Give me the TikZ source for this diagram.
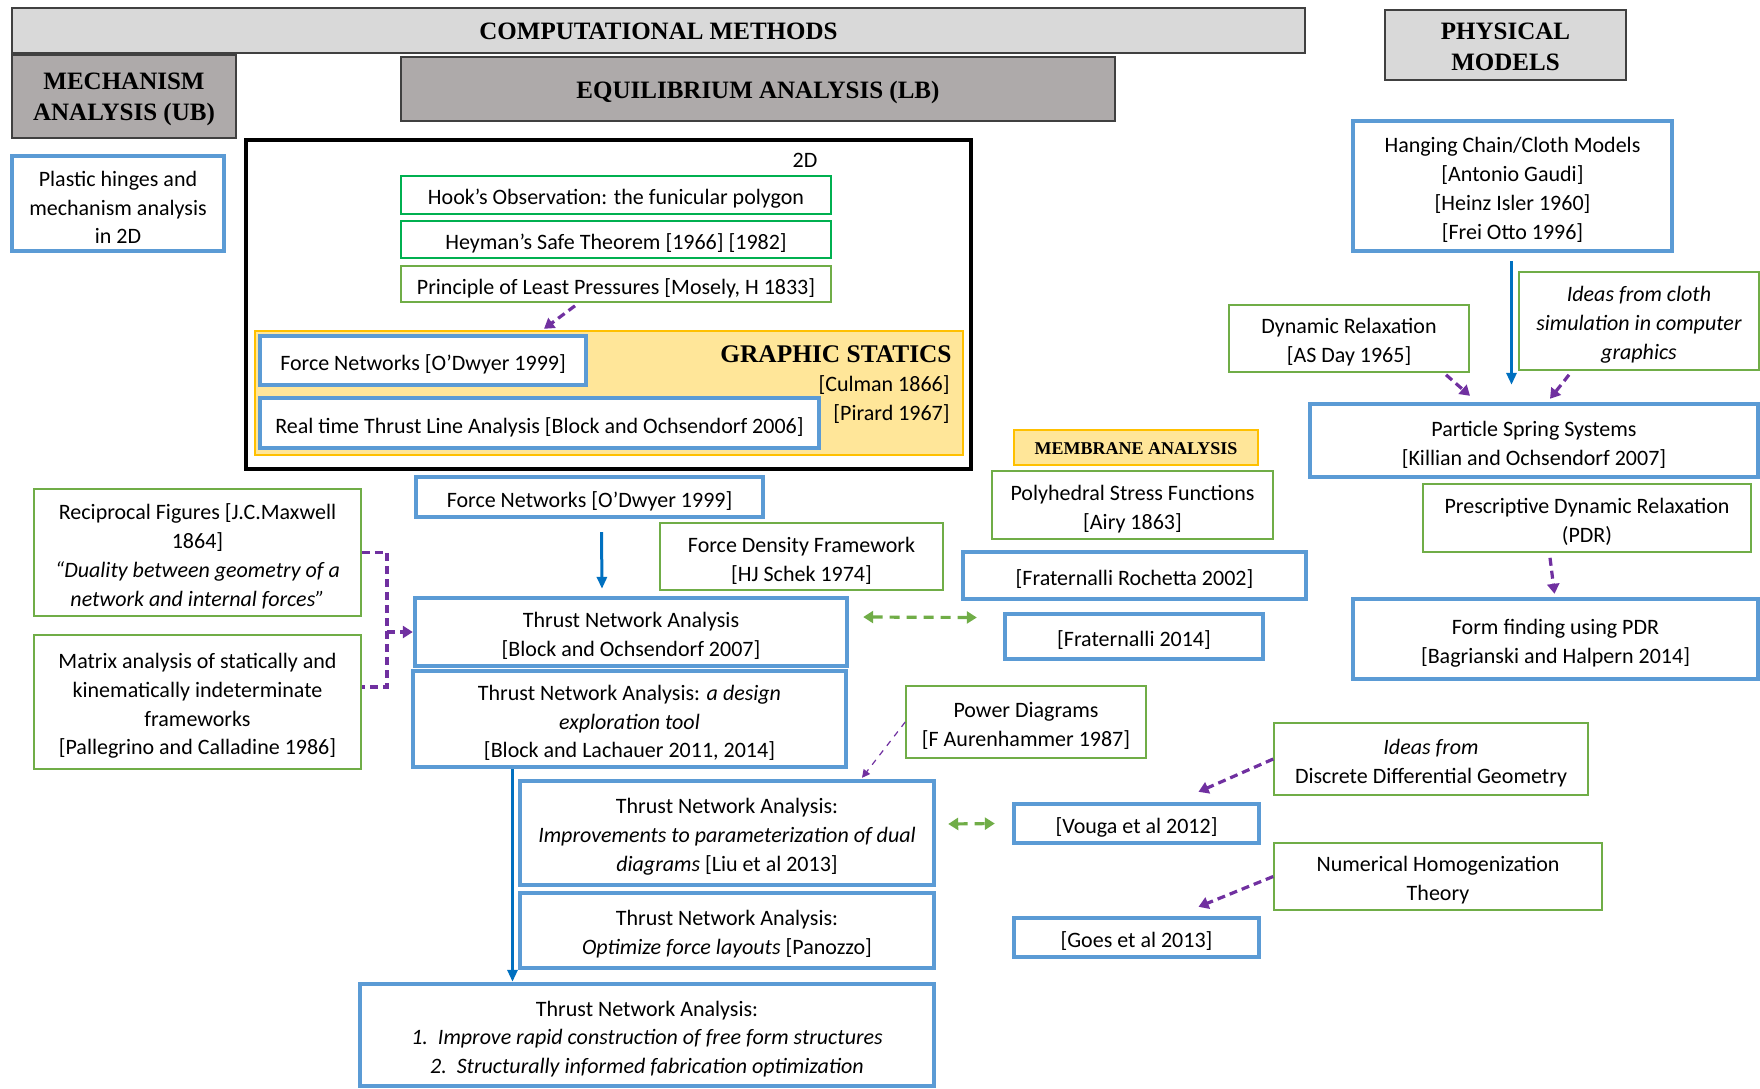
\documentclass[tikz,border=0pt]{standalone}
\usepackage{fontspec}
\setmainfont{Carlito}
\newfontfamily\hdrfont{Liberation Serif}
\usetikzlibrary{arrows.meta,calc}
\definecolor{bluec}{HTML}{5B9BD5}
\definecolor{greenc}{HTML}{70AD47}
\definecolor{greenb}{HTML}{00B050}
\definecolor{purp}{HTML}{7030A0}
\definecolor{arrblue}{HTML}{0070C0}
\definecolor{hdrlight}{HTML}{D9D9D9}
\definecolor{hdrdark}{HTML}{AEAAAA}
\definecolor{yelfill}{HTML}{FFE699}
\definecolor{yelline}{HTML}{FFC000}
\newcommand\mkbox[8][4]{%
  \pgfmathsetmacro\mbx{(#4+#6)/2}%
  \pgfmathsetmacro\mby{(#5+#7)/2}%
  \pgfmathsetmacro\mbty{(#5+#7)/2+#1}%
  \pgfmathsetmacro\mbw{(#6-#4)/2}%
  \pgfmathsetmacro\mbh{(#7-#5)/2}%
  \node[#2,minimum width=\mbw pt,minimum height=\mbh pt] (#3) at (\mbx,\mby) {};
  \node[#2,draw=none,fill=none] (#3t) at (\mbx,\mbty) {#8};}
\tikzset{
  base/.style={rectangle,inner sep=1pt,align=center,font=\fontsize{11}{14.4}\selectfont},
  bluebox/.style={base,draw=bluec,line width=2.2pt,fill=white},
  greenbox/.style={base,draw=greenc,line width=0.8pt,fill=white},
  greenboxb/.style={base,draw=greenb,line width=0.9pt,fill=white},
  hdrL/.style={base,draw=black!75,line width=1pt,fill=hdrlight,font=\hdrfont\bfseries\fontsize{12.5}{15.7}\selectfont},
  hdrD/.style={base,draw=black!75,line width=1pt,fill=hdrdark,font=\hdrfont\bfseries\fontsize{12.5}{15.7}\selectfont},
  memb/.style={base,draw=yelline,line width=0.8pt,fill=yelfill,font=\hdrfont\bfseries\fontsize{9}{11}\selectfont},
  framebox/.style={rectangle,draw=black,line width=2pt},
  yelbox/.style={rectangle,draw=yelline,line width=0.8pt,fill=yelfill},
  plain/.style={inner sep=0pt,font=\fontsize{11}{14.4}\selectfont},
  purpd/.style={draw=purp,line width=1.6pt,dash pattern=on 4pt off 2.5pt},
  purparr/.style={purpd,-{Triangle[length=5pt,width=6pt]}},
  purpthin/.style={draw=purp,line width=0.6pt,dashed,-{Triangle[length=4pt,width=4pt]}},
  bluearr/.style={draw=arrblue,line width=1.5pt,-{Triangle[length=6pt,width=5pt]}},
  greenarr/.style={draw=greenc,line width=1.6pt,dash pattern=on 5pt off 3.5pt,{Triangle[length=5pt,width=6pt]}-{Triangle[length=5pt,width=6pt]}}
}
\begin{document}
\begin{tikzpicture}[x=0.5pt,y=-0.5pt]
\useasboundingbox (0,0) rectangle (1760,1088);
% headers
\mkbox[1]{hdrL}{comp}{12}{8}{1305}{53}{COMPUTATIONAL METHODS}
\mkbox[3]{hdrD}{mech}{12}{55}{236}{138}{MECHANISM\\ANALYSIS (UB)}
\mkbox[3]{hdrD}{equi}{401}{57}{1115}{121}{EQUILIBRIUM ANALYSIS (LB)}
\mkbox[2]{hdrL}{phys}{1385}{10}{1626}{80}{PHYSICAL\\MODELS}
% 2D frame
\mkbox[0]{framebox}{frame}{246}{140}{971}{469}{}
\mkbox[0]{yelbox}{gs}{255}{331}{963}{455}{}
\node[plain,anchor=center] (twod) at (805,160) {2D};
\mkbox{greenboxb}{hook}{401}{176}{831}{214}{Hook’s Observation: the funicular polygon}
\mkbox{greenboxb}{heym}{401}{221}{831}{258}{Heyman’s Safe Theorem [1966] [1982]}
\mkbox{greenbox}{princ}{401}{266}{831}{302}{Principle of Least Pressures [Mosely, H 1833]}
\mkbox{bluebox}{fnA}{260}{336}{586}{385}{Force Networks [O’Dwyer 1999]}
\mkbox{bluebox}{rtt}{260}{398}{819}{448}{Real time Thrust Line Analysis [Block and Ochsendorf 2006]}
\node[inner sep=0pt,anchor=east,font=\hdrfont\bfseries\fontsize{12.7}{15}\selectfont] (gstitle) at (952,354) {GRAPHIC STATICS};
\node[plain,anchor=east] (culman) at (950,385) {[Culman 1866]};
\node[plain,anchor=east] (pirard) at (950,414) {[Pirard 1967]};
% left column
\mkbox{bluebox}{plastic}{12}{156}{224}{251}{Plastic hinges and\\mechanism analysis\\in 2D}
\mkbox{greenbox}{recip}{34}{489}{361}{616}{Reciprocal Figures [J.C.Maxwell\\1864]\\\textit{“Duality between geometry of a}\\\textit{network and internal forces”}}
\mkbox{greenbox}{matrix}{34}{635}{361}{769}{Matrix analysis of statically and\\kinematically indeterminate\\frameworks\\{[}Pallegrino and Calladine 1986]}
% centre column
\mkbox{bluebox}{fnB}{416}{477}{763}{517}{Force Networks [O’Dwyer 1999]}
\mkbox{greenbox}{fdf}{660}{523}{943}{590}{Force Density Framework\\{[}HJ Schek 1974]}
\mkbox{bluebox}{tna}{415}{598}{847}{666}{Thrust Network Analysis\\{[}Block and Ochsendorf 2007]}
\mkbox{bluebox}{design}{413}{671}{846}{767}{Thrust Network Analysis: \textit{a design}\\\textit{exploration tool}\\{[}Block and Lachauer 2011, 2014]}
\mkbox{greenbox}{power}{906}{686}{1146}{758}{Power Diagrams\\{[}F Aurenhammer 1987]}
\mkbox{bluebox}{impr}{520}{781}{934}{885}{Thrust Network Analysis:\\\textit{Improvements to parameterization of dual}\\\textit{diagrams} [Liu et al 2013]}
\mkbox{bluebox}{optim}{520}{893}{934}{968}{Thrust Network Analysis:\\\textit{Optimize force layouts} [Panozzo]}
\mkbox{bluebox}{bot}{360}{984}{934}{1086}{Thrust Network Analysis:\\\textit{1.\ \ Improve rapid construction of free form structures}\\\textit{2.\ \ Structurally informed fabrication optimization}}
% membrane column
\mkbox[1]{memb}{membrane}{1014}{430}{1258}{465}{MEMBRANE ANALYSIS}
\mkbox{greenbox}{poly}{992}{471}{1273}{539}{Polyhedral Stress Functions\\{[}Airy 1863]}
\mkbox{bluebox}{frA}{963}{552}{1306}{599}{[Fraternalli Rochetta 2002]}
\mkbox{bluebox}{frB}{1005}{614}{1263}{659}{[Fraternalli 2014]}
\mkbox{bluebox}{vouga}{1014}{804}{1259}{843}{[Vouga et al 2012]}
\mkbox{bluebox}{goes}{1014}{918}{1259}{957}{[Goes et al 2013]}
\mkbox{greenbox}{ddg}{1274}{723}{1588}{795}{\textit{Ideas from}\\Discrete Differential Geometry}
\mkbox{greenbox}{numhom}{1274}{843}{1602}{910}{Numerical Homogenization\\Theory}
% physical models column
\mkbox{bluebox}{hang}{1353}{121}{1672}{251}{Hanging Chain/Cloth Models\\{[}Antonio Gaudi]\\{[}Heinz Isler 1960]\\{[}Frei Otto 1996]}
\mkbox{greenbox}{dr}{1229}{305}{1469}{372}{Dynamic Relaxation\\{[}AS Day 1965]}
\mkbox{greenbox}{cloth}{1519}{272}{1759}{370}{\textit{Ideas from cloth}\\\textit{simulation in computer}\\\textit{graphics}}
\mkbox{bluebox}{part}{1310}{404}{1758}{477}{Particle Spring Systems\\{[}Killian and Ochsendorf 2007]}
\mkbox{greenbox}{pdr}{1423}{484}{1751}{552}{Prescriptive Dynamic Relaxation\\(PDR)}
\mkbox{bluebox}{form}{1353}{599}{1758}{679}{Form finding using PDR\\{[}Bagrianski and Halpern 2014]}
% connectors
\draw[purparr] ($(princ.south)+(-41,3)$) -- ($(fnA.north)+(121,-5)$);
\coordinate (bk) at (387,632);
\draw[purpd] (recip.east) -- (recip.east -| bk) -- ($(matrix.east -| bk)+(0,-15)$) -- ($(matrix.east)+(0,-15)$);
\draw[purparr] (bk) -- (tna.west);
\draw[bluearr] ($(fnB.south)+(12,13)$) -- ($(tna.north)+(-29,-7)$);
\draw[greenarr] ($(tna.east)+(14,-15)$) -- ($(frB.west)+(-26,-19)$);
\draw[purpthin] (power.west) -- ($(impr.north)+(135,-1)$);
\coordinate (lnA) at ($(design.south)+(-117,0)$);
\draw[bluearr] (lnA) -- (lnA |- bot.north);
\draw[greenarr] ($(impr.east)+(12,-9)$) -- ($(vouga.west)+(-17,0)$);
\draw[purparr] (ddg.west) -- ($(vouga.north)+(62,-10)$);
\draw[purparr] (numhom.west) -- ($(goes.north)+(62,-9)$);
\draw[bluearr] ($(hang.south)+(-1,8)$) -- ($(hang.south |- part.north)+(-1,-17)$);
\draw[purparr] ($(dr.south)+(97,2)$) -- ($(part.north)+(-64,-6)$);
\draw[purparr] ($(cloth.south)+(-70,4)$) -- ($(part.north)+(16,-3)$);
\draw[purparr] ($(pdr.south)+(-37,5)$) -- ($(form.north)+(-1,-3)$);
\end{tikzpicture}
\end{document}
